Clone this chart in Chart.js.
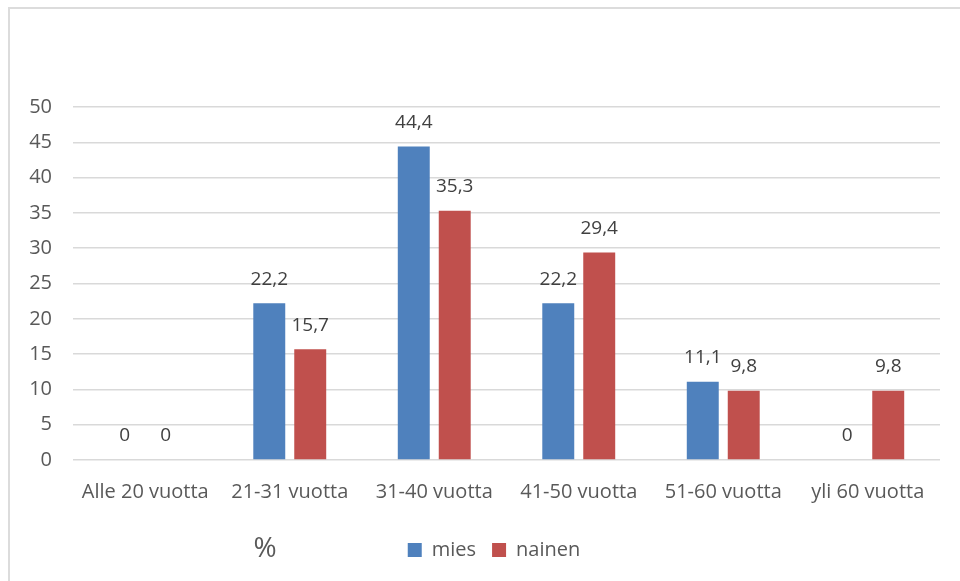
<!DOCTYPE html>
<html>
<head>
<meta charset="utf-8">
<script src="https://cdn.jsdelivr.net/npm/chart.js@4"></script>
<style>
  html, body { margin: 0; padding: 0; background: #fff; overflow: hidden; }
  #frame { position: absolute; left: 8px; top: 7px; width: 1000px; height: 620px; border: 2px solid #dcdcdc; }
  #wrap { position: absolute; left: 0; top: 0; width: 960px; height: 581px; }
</style>
</head>
<body>
<div id="frame"></div>
<div id="wrap"><canvas id="chart"></canvas></div>
<script>
(function () {
  'use strict';

  var categories = ['Alle 20 vuotta', '21-31 vuotta', '31-40 vuotta', '41-50 vuotta', '51-60 vuotta', 'yli 60 vuotta'];
  var mies = [0, 22.2, 44.4, 22.2, 11.1, 0];
  var nainen = [0, 15.7, 35.3, 29.4, 9.8, 9.8];
  var axisTitle = '%';

  var FONT = '"Open Sans", Lato, sans-serif';
  var TEXT = '#595959';

  function fmtComma(v) {
    return String(v).replace('.', ',');
  }

  // --- value labels above bars ---
  var valueLabels = {
    id: 'valueLabels',
    afterDatasetsDraw: function (chart) {
      var ctx = chart.ctx;
      ctx.save();
      ctx.font = '19px ' + FONT;
      ctx.fillStyle = '#404040';
      ctx.textAlign = 'center';
      ctx.textBaseline = 'middle';
      chart.data.datasets.forEach(function (ds, i) {
        var meta = chart.getDatasetMeta(i);
        meta.data.forEach(function (el, j) {
          ctx.fillText(fmtComma(ds.data[j]), el.x, el.y - 24);
        });
      });
      ctx.restore();
    }
  };

  // legend sits a bit right of the canvas centre in the original
  var legendShift = {
    id: 'legendShift',
    afterLayout: function (chart) {
      if (chart.legend) {
        chart.legend.left += 24;
        chart.legend.right += 24;
      }
    }
  };

  // --- the lone "%" caption next to the legend ---
  var caption = {
    id: 'caption',
    afterDraw: function (chart) {
      var ctx = chart.ctx;
      ctx.save();
      ctx.font = '28px ' + FONT;
      ctx.fillStyle = TEXT;
      ctx.textAlign = 'center';
      ctx.textBaseline = 'middle';
      ctx.fillText(axisTitle, 265, 549);
      ctx.restore();
    }
  };

  new Chart(document.getElementById('chart'), {
    type: 'bar',
    data: {
      labels: categories,
      datasets: [{
        label: 'mies',
        data: mies,
        backgroundColor: '#4f81bd'
      }, {
        label: 'nainen',
        data: nainen,
        backgroundColor: '#c0504d'
      }]
    },
    plugins: [valueLabels, legendShift, caption],
    options: {
      responsive: true,
      maintainAspectRatio: false,
      animation: false,
      categoryPercentage: 0.567,
      barPercentage: 0.78,
      layout: { padding: { left: 0, right: 20, top: 107, bottom: 11 } },
      plugins: {
        tooltip: { enabled: false },
        legend: {
          position: 'bottom',
          labels: {
            boxWidth: 14,
            boxHeight: 14,
            padding: 16,
            color: TEXT,
            font: { family: FONT, size: 20 }
          }
        }
      },
      scales: {
        x: {
          grid: { display: false, drawTicks: false },
          border: { display: false },
          ticks: { color: TEXT, font: { family: FONT, size: 20 }, padding: 20, maxRotation: 0 }
        },
        y: {
          min: 0,
          max: 50,
          afterFit: function (scale) { scale.width = 73; },
          grid: { color: '#d9d9d9', lineWidth: 1.5, drawTicks: false },
          border: { display: false },
          ticks: { stepSize: 5, color: TEXT, font: { family: FONT, size: 20 }, padding: 21 }
        }
      }
    }
  });
})();
</script>
</body>
</html>
